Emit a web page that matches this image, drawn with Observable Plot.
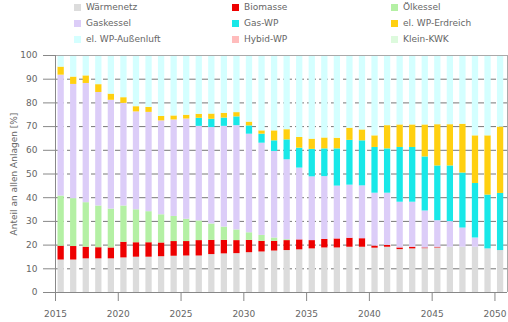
<!DOCTYPE html>
<html><head><meta charset="utf-8">
<script src="https://cdn.jsdelivr.net/npm/d3@7"></script>
<script src="https://cdn.jsdelivr.net/npm/@observablehq/plot@0.6"></script>
<style>
body{margin:0;background:#fff;font-family:"DejaVu Sans",sans-serif;}
#legend{position:relative;height:47px;width:508px;font-size:9px;color:#666;}
.item{position:absolute;display:flex;align-items:center;height:10px;line-height:10px;white-space:nowrap;}
.sw{width:7px;height:7px;margin-right:5px;}
#chart svg{display:block;}
</style></head><body>
<div id="legend"></div><div id="chart"></div>
<script>
const years = [2015,2016,2017,2018,2019,2020,2021,2022,2023,2024,2025,2026,2027,2028,2029,2030,2031,2032,2033,2034,2035,2036,2037,2038,2039,2040,2041,2042,2043,2044,2045,2046,2047,2048,2049,2050];
const seriesNames = ["Wärmenetz","Biomasse","Ölkessel","Gaskessel","Gas-WP","el. WP-Erdreich","el. WP-Außenluft","Hybid-WP","Klein-KWK"];
const seriesColors = ["#dcdcdc","#ee0000","#b4f0a4","#dccdf8","#18e8e8","#ffd010","#d4ffff","#ffbcbc","#ddfadd"];
const waermenetz = [13.7,13.7,14.2,14.2,14.2,14.6,14.9,14.9,15.1,15.3,15.4,15.4,16.0,16.3,16.4,16.8,17.1,17.5,17.7,18.0,18.4,18.8,18.8,19.1,19.1,18.7,19.1,18.1,18.4,18.5,18.8,19.1,19.1,19.1,18.4,17.7];
const biomasse = [5.8,5.7,4.9,4.7,4.6,6.6,6.1,6.1,5.8,6.2,6.1,6.5,6.0,5.7,5.5,5.2,4.5,4.1,4.2,4.2,3.5,3.6,3.8,3.8,3.6,0.9,0.8,0.7,0.7,0.3,0.3,0,0,0,0,0];
const oelkessel = [21.2,20.2,18.8,17.6,16.4,15.3,13.9,13.1,11.9,10.6,9.4,8.3,6.9,5.6,4.5,3.2,2.5,1.4,0.4,0,0,0,0,0,0,0,0,0,0,0,0,0,0,0,0,0];
const gaskessel = [51.0,48.2,50.3,47.9,45.9,43.3,41.3,41.9,39.6,40.7,42.3,39.9,40.7,42.5,44.0,41.6,38.9,36.5,33.7,30.3,26.9,26.5,22.3,22.4,22.3,22.3,22.0,19.3,19.0,15.6,11.2,10.8,8.1,3.9,0,0];
const gasWP = [0,0,0,0,0,0,0,0,0,0,0,3.4,3.5,3.5,3.7,3.5,3.8,4.5,8.4,8.4,11.6,11.7,15.7,18.9,19.0,19.3,18.7,23.1,23.1,22.8,23.1,23.5,23.2,23.0,22.7,24.1];
const erdreich = [3.4,3.1,3.2,3.3,2.6,2.4,2.2,2.1,1.9,1.7,1.6,1.7,2.2,2.0,1.8,1.6,1.4,4.2,4.3,4.5,4.3,4.6,4.5,5.1,4.6,4.9,9.8,9.5,9.5,13.5,17.4,17.4,20.6,20.1,25.0,28.0];
const aussenluft = [4.9,9.1,8.6,12.3,16.3,17.8,21.6,21.9,25.7,25.5,25.2,24.8,24.7,24.4,24.1,28.1,31.8,31.8,31.3,34.6,35.3,34.8,34.9,30.7,31.4,33.9,29.6,29.3,29.3,29.3,29.2,29.2,29.0,33.9,33.9,30.2];
const hybridWP = [0,0,0,0,0,0,0,0,0,0,0,0,0,0,0,0,0,0,0,0,0,0,0,0,0,0,0,0,0,0,0,0,0,0,0,0];
const kleinKWK = [0,0,0,0,0,0,0,0,0,0,0,0,0,0,0,0,0,0,0,0,0,0,0,0,0,0,0,0,0,0,0,0,0,0,0,0];
const yTicks = [0,10,20,30,40,50,60,70,80,90,100];
const xTicks = [2015,2020,2025,2030,2035,2040,2045,2050];
const yLabel = "Anteil an allen Anlagen [%]";

const seriesValues = [waermenetz,biomasse,oelkessel,gaskessel,gasWP,erdreich,aussenluft,hybridWP,kleinKWK];
const data = [];
years.forEach((yr,i)=>{
  seriesNames.forEach((s,j)=>{ data.push({year:yr, series:s, value:seriesValues[j][i]}); });
});

// legend
const legend = document.getElementById("legend");
const colX = [74,232,391], rowY = [2,18,34];
seriesNames.forEach((s,j)=>{
  const it = document.createElement("div");
  it.className="item";
  it.style.left = colX[j%3]+"px";
  it.style.top = rowY[Math.floor(j/3)]+"px";
  it.innerHTML = `<span class="sw" style="background:${seriesColors[j]}"></span><span>${s}</span>`;
  legend.appendChild(it);
});

const chart = Plot.plot({
  width:508, height:275,
  marginLeft:55, marginRight:1, marginTop:8, marginBottom:30,
  style:{fontFamily:"DejaVu Sans", fontSize:"9px", color:"#666", background:"#fff"},
  x:{domain:[2015,2051]},
  y:{domain:[0,100]},
  color:{domain:seriesNames, range:seriesColors},
  marks:[
    Plot.gridY(yTicks.filter(t=>t>0&&t<100), {stroke:"#777", strokeOpacity:1, strokeDasharray:"9,3"}),
    Plot.rectY(data, Plot.stackY({x1:d=>d.year+0.2, x2:d=>d.year+0.7, y:"value", fill:"series"})),
    Plot.ruleY([100], {stroke:"#aaa"}),
    Plot.ruleX([2051], {stroke:"#aaa"}),
    Plot.axisY({ticks:yTicks, tickSize:12, tickPadding:6, stroke:"#888", label:yLabel, labelAnchor:"center", labelArrow:"none", labelOffset:45}),
    Plot.axisX({ticks:xTicks, tickFormat:d=>String(d), tickSize:9, tickPadding:9, stroke:"#888", label:null}),
    Plot.ruleX([2015], {stroke:"#888"}),
    Plot.ruleY([0], {stroke:"#888"})
  ]
});
document.getElementById("chart").appendChild(chart);
</script>
</body></html>
